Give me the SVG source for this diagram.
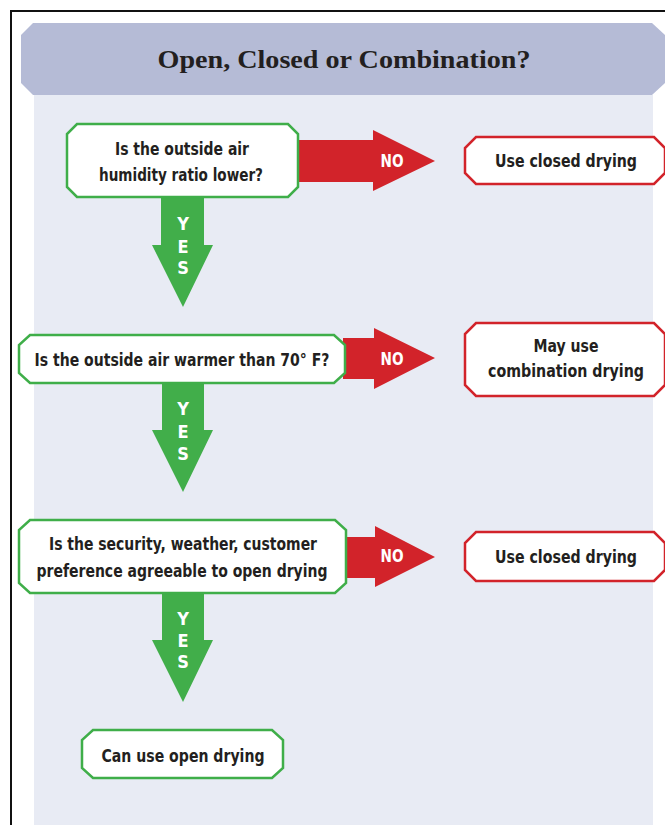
<svg xmlns="http://www.w3.org/2000/svg" width="665" height="825" viewBox="0 0 665 825">
  <style>
    .frame { fill: none; stroke: #111; stroke-width: 2; }
    .header { fill: #b5bbd6; }
    .panel { fill: #e8ebf4; }
    .title { font-family: "Liberation Serif", "Times New Roman", serif; font-weight: bold; font-size: 26px; fill: #231f20; }
    .q { fill: #ffffff; stroke: #3fae49; stroke-width: 2.5; stroke-linejoin: miter; }
    .r { fill: #ffffff; stroke: #d2232a; stroke-width: 2.5; stroke-linejoin: miter; }
    .lbl { font-family: "Liberation Sans Narrow", "DejaVu Sans Condensed", "Liberation Sans", Arial, sans-serif; font-weight: bold; font-size: 18px; fill: #231f20; text-anchor: middle; }
    .yes { fill: #41ae4a; }
    .no { fill: #d2232a; }
    .tag { font-family: "Liberation Sans Narrow", "DejaVu Sans Condensed", "Liberation Sans", Arial, sans-serif; font-weight: bold; font-size: 18px; fill: #ffffff; text-anchor: middle; }
  </style>

  <!-- page background, header band and light panel -->
  <rect x="0" y="0" width="665" height="825" fill="#ffffff"/>
  <rect class="panel" x="34" y="95" width="619" height="730"/>
  <polygon class="header" points="33,23 652,23 666,36 666,82 652,95 33,95 21,83 21,35"/>
  <path class="frame" d="M11,826 V11 H666"/>
  <text class="title" x="344" y="68" text-anchor="middle" textLength="373" lengthAdjust="spacingAndGlyphs">Open, Closed or Combination?</text>

  <!-- yes / no arrows -->
  <g id="connectors">
    <g id="no1">
      <polygon class="no" points="296,140 373,140 373,130 435,161 373,191 373,182 296,182"/>
      <text class="tag" x="392" y="167" textLength="23" lengthAdjust="spacingAndGlyphs">NO</text>
    </g>
    <g id="yes1">
      <polygon class="yes" points="161,195 204,195 204,245 213,245 183,307 152,245 161,245"/>
      <text class="tag" x="183" y="230">Y</text>
      <text class="tag" x="183" y="253">E</text>
      <text class="tag" x="183" y="274">S</text>
    </g>
    <g id="no2">
      <polygon class="no" points="343,338 374,338 374,328 435,358 374,389 374,379 343,379"/>
      <text class="tag" x="392" y="365" textLength="23" lengthAdjust="spacingAndGlyphs">NO</text>
    </g>
    <g id="yes2">
      <polygon class="yes" points="162,381 204,381 204,430 213,430 183,492 152,430 162,430"/>
      <text class="tag" x="183" y="415">Y</text>
      <text class="tag" x="183" y="438">E</text>
      <text class="tag" x="183" y="460">S</text>
    </g>
    <g id="no3">
      <polygon class="no" points="344,537 375,537 375,526 435,557 375,587 375,578 344,578"/>
      <text class="tag" x="392" y="562" textLength="23" lengthAdjust="spacingAndGlyphs">NO</text>
    </g>
    <g id="yes3">
      <polygon class="yes" points="162,591 204,591 204,640 213,640 183,702 152,640 162,640"/>
      <text class="tag" x="183" y="625">Y</text>
      <text class="tag" x="183" y="647">E</text>
      <text class="tag" x="183" y="668">S</text>
    </g>
  </g>

  <!-- question nodes -->
  <g id="q1">
    <polygon class="q" points="77,124 288,124 298,134 298,187 288,197 77,197 67,187 67,134"/>
    <text class="lbl" x="182" y="155" textLength="134" lengthAdjust="spacingAndGlyphs">Is the outside air</text>
    <text class="lbl" x="181" y="181" textLength="164" lengthAdjust="spacingAndGlyphs">humidity ratio lower?</text>
  </g>
  <g id="q2">
    <polygon class="q" points="30,335 334,335 345,345 345,373 334,383 30,383 19,373 19,345"/>
    <text class="lbl" x="182" y="366" textLength="295" lengthAdjust="spacingAndGlyphs">Is the outside air warmer than 70° F?</text>
  </g>
  <g id="q3">
    <polygon class="q" points="30,520 335,520 346,530 346,583 335,593 30,593 19,583 19,530"/>
    <text class="lbl" x="183" y="550" textLength="268" lengthAdjust="spacingAndGlyphs">Is the security, weather, customer</text>
    <text class="lbl" x="182" y="577" textLength="291" lengthAdjust="spacingAndGlyphs">preference agreeable to open drying</text>
  </g>
  <g id="end-open">
    <polygon class="q" points="93,730 272,730 283,740 283,768 272,778 93,778 82,768 82,740"/>
    <text class="lbl" x="183" y="762" font-size="19" textLength="163" lengthAdjust="spacingAndGlyphs">Can use open drying</text>
  </g>

  <!-- result nodes -->
  <g id="r1">
    <polygon class="r" points="476,137 654,137 665,148 665,173 654,184 476,184 465,173 465,148"/>
    <text class="lbl" x="566" y="167" textLength="142" lengthAdjust="spacingAndGlyphs">Use closed drying</text>
  </g>
  <g id="r2">
    <polygon class="r" points="476,323 654,323 665,334 665,385 654,396 476,396 465,385 465,334"/>
    <text class="lbl" x="566" y="352" textLength="65" lengthAdjust="spacingAndGlyphs">May use</text>
    <text class="lbl" x="566" y="377" textLength="156" lengthAdjust="spacingAndGlyphs">combination drying</text>
  </g>
  <g id="r3">
    <polygon class="r" points="476,532 654,532 665,543 665,570 654,581 476,581 465,570 465,543"/>
    <text class="lbl" x="566" y="563" textLength="142" lengthAdjust="spacingAndGlyphs">Use closed drying</text>
  </g>
</svg>
